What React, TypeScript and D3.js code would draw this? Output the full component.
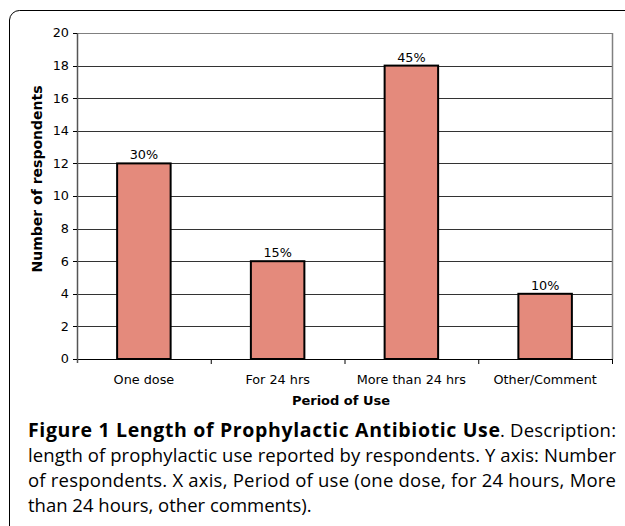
import React from 'react';
import * as d3 from 'd3';

const categories = ['One dose', 'For 24 hrs', 'More than 24 hrs', 'Other/Comment'];
const counts = [12, 6, 18, 4];
const percentLabels = ['30%', '15%', '45%', '10%'];
const yTicks = [0, 2, 4, 6, 8, 10, 12, 14, 16, 18, 20];

const captionBold = 'Figure 1 Length of Prophylactic Antibiotic Use';
const captionLines = [
  '. Description:',
  'length of prophylactic use reported by respondents. Y axis: Number',
  'of respondents. X axis, Period of use (one dose, for 24 hours, More',
  'than 24 hours, other comments).',
];

export default function App() {
  const width = 625;
  const height = 526;
  const plot = { left: 77, top: 33, right: 612, bottom: 359 };

  const x = d3.scaleBand()
    .domain(categories)
    .range([plot.left, plot.right])
    .paddingInner(0.6)
    .paddingOuter(0.3);
  const band = (plot.right - plot.left) / categories.length;
  const y = d3.scaleLinear().domain([0, 20]).range([plot.bottom, plot.top]);

  const font = '"DejaVu Sans", sans-serif';
  const capFont = '"Open Sans", sans-serif';
  const fs = 12.8;
  const capFs = 18.5;
  const capLeft = 28;
  const capRight = 616;

  return (
    <svg width={width} height={height} style={{ position: 'absolute', left: 0, top: 0 }}>
      <rect width={width} height={height} fill="#fff" />
      {/* frame */}
      <path d={`M9.5,${height} V20 A10,10 0 0 1 19.5,10.5 H${width}`} fill="none" stroke="#000" strokeWidth={1} />

      {/* gridlines */}
      {yTicks.map(t => (
        <line key={t} x1={plot.left} x2={plot.right} y1={Math.round(y(t)) + 0.5} y2={Math.round(y(t)) + 0.5}
          stroke={t === 0 || t === 20 ? '#808080' : '#333'} strokeWidth={1} />
      ))}
      <line x1={plot.right + 0.5} x2={plot.right + 0.5} y1={plot.top} y2={plot.bottom} stroke="#808080" strokeWidth={1.5} />

      {/* bars */}
      {categories.map((c, i) => (
        <g key={c}>
          <rect x={x(c)} y={y(counts[i])} width={x.bandwidth()} height={plot.bottom - y(counts[i])}
            fill="#E48A7C" stroke="#000" strokeWidth={2} />
          <text x={(x(c) as number) + x.bandwidth() / 2} y={y(counts[i]) - 4} textAnchor="middle"
            fontFamily={font} fontSize={fs} fill="#000">{percentLabels[i]}</text>
        </g>
      ))}

      {/* axes */}
      <line x1={plot.left - 4} x2={plot.right} y1={plot.bottom + 0.5} y2={plot.bottom + 0.5} stroke="#000" strokeWidth={1} />
      <line x1={plot.left + 0.5} x2={plot.left + 0.5} y1={plot.top} y2={plot.bottom + 4} stroke="#555" strokeWidth={1.5} />
      {yTicks.map(t => (
        <g key={'t' + t}>
          <line x1={plot.left - 4} x2={plot.left} y1={Math.round(y(t)) + 0.5} y2={Math.round(y(t)) + 0.5} stroke="#000" />
          <text x={plot.left - 8} y={y(t)} dy="0.35em" textAnchor="end" fontFamily={font} fontSize={fs}>{t}</text>
        </g>
      ))}
      {categories.map((c, i) => (
        <g key={'x' + c}>
          <line x1={plot.left + band * (i + 1) + 0.5} x2={plot.left + band * (i + 1) + 0.5}
            y1={plot.bottom} y2={plot.bottom + 5} stroke="#000" />
          <text x={(x(c) as number) + x.bandwidth() / 2} y={plot.bottom + 25} textAnchor="middle"
            fontFamily={font} fontSize={fs}>{c}</text>
        </g>
      ))}
      <text x={341} y={405} textAnchor="middle" fontFamily={font} fontSize={13} fontWeight="bold">Period of Use</text>
      <text transform="translate(42,179) rotate(-90)" textAnchor="middle"
        fontFamily={font} fontSize={14} fontWeight="bold">Number of respondents</text>

      {/* caption */}
      <text x={capLeft} y={437} fontFamily={capFont} fontSize={19.5} fontWeight="bold" textLength={472} lengthAdjust="spacing">{captionBold}</text>
      <text x={500} y={437} fontFamily={capFont} fontSize={capFs} textLength={capRight - 500} lengthAdjust="spacing">{captionLines[0]}</text>
      <text x={capLeft} y={462} fontFamily={capFont} fontSize={capFs} textLength={capRight - capLeft} lengthAdjust="spacing">{captionLines[1]}</text>
      <text x={capLeft} y={487} fontFamily={capFont} fontSize={capFs} textLength={capRight - capLeft} lengthAdjust="spacing">{captionLines[2]}</text>
      <text x={capLeft} y={512} fontFamily={capFont} fontSize={capFs}>{captionLines[3]}</text>
    </svg>
  );
}
